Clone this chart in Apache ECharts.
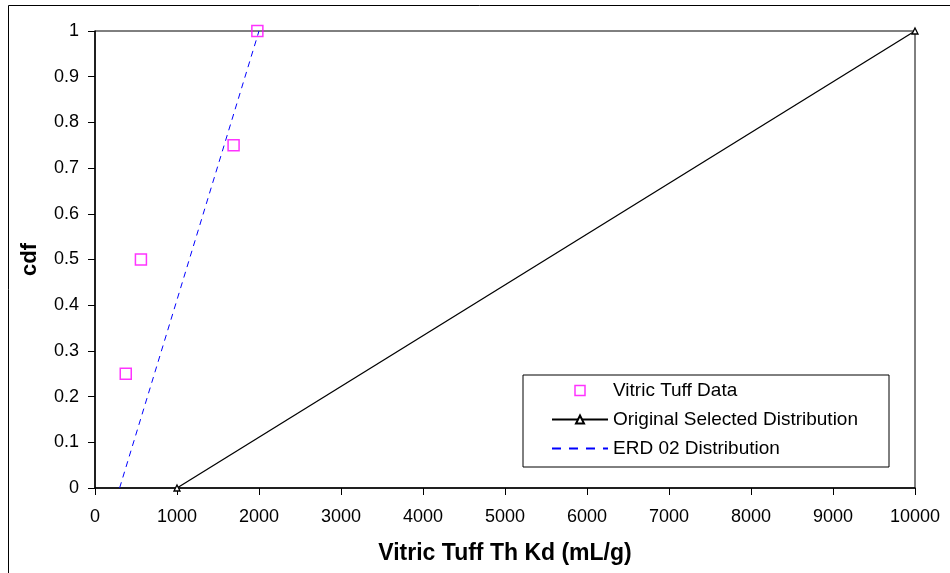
<!DOCTYPE html>
<html>
<head>
<meta charset="utf-8">
<script src="https://cdn.jsdelivr.net/npm/echarts@6/dist/echarts.min.js"></script>
<style>
  html, body { margin: 0; padding: 0; background: #fff; }
  #main { width: 950px; height: 573px; }
</style>
</head>
<body>
<div id="main"></div>
<script>
// data
var vitricX = [375, 560, 1690, 1980]
var vitricY = [0.25, 0.5, 0.75, 1]
var origX = [1000, 10000]
var origY = [0, 1]
var erdX = [300, 2000]
var erdY = [0, 1]

function pairs(xs, ys) {
  return xs.map(function (x, i) { return [x, ys[i]] })
}

var chart = echarts.init(document.getElementById('main'))
var font = 'Liberation Sans, Arial, sans-serif'

var option = {
  animation: false,
  textStyle: { fontFamily: font },
  graphic: [
    {
      type: 'rect',
      shape: { x: 8.5, y: 5.5, width: 1000, height: 700 },
      style: { fill: 'none', stroke: '#000', lineWidth: 1 },
      silent: true
    }
  ],
  grid: {
    left: 95, top: 31, width: 820, height: 457,
    show: true, borderColor: '#000', borderWidth: 1, backgroundColor: 'transparent'
  },
  legend: {
    orient: 'vertical',
    left: 523, top: 375,
    padding: [6, 31, 9, 28],
    itemWidth: 56, itemHeight: 10, itemGap: 10,
    borderColor: '#000', borderWidth: 1,
    backgroundColor: '#fff',
    textStyle: { fontFamily: font, fontSize: 19, lineHeight: 19, color: '#000' },
    data: [
      {
        name: 'Vitric Tuff Data',
        icon: 'path://M0,0H10V10H0Z',
        itemStyle: { color: 'transparent', borderColor: '#ff00ff', borderWidth: 1.5 }
      },
      { name: 'Original Selected Distribution' },
      {
        name: 'ERD 02 Distribution',
        lineStyle: { type: [9, 8] },
        itemStyle: { color: 'transparent', borderColor: 'transparent', borderWidth: 0 }
      }
    ]
  },
  xAxis: {
    type: 'value', min: 0, max: 10000, interval: 1000,
    name: 'Vitric Tuff Th Kd (mL/g)', nameLocation: 'middle', nameGap: 54,
    nameTextStyle: { fontFamily: font, fontSize: 23, fontWeight: 'bold', color: '#000' },
    axisLine: { show: true, lineStyle: { color: '#000', width: 1.5 } },
    axisTick: { show: true, inside: false, length: 7, lineStyle: { color: '#000' } },
    axisLabel: { fontFamily: font, fontSize: 18, color: '#000', margin: 20, formatter: function (v) { return String(v) } },
    splitLine: { show: false }
  },
  yAxis: {
    type: 'value', min: 0, max: 1, interval: 0.1,
    name: 'cdf', nameLocation: 'middle', nameGap: 54,
    nameTextStyle: { fontFamily: font, fontSize: 22, fontWeight: 'bold', color: '#000' },
    axisLine: { show: true, lineStyle: { color: '#000', width: 1.5 } },
    axisTick: { show: true, inside: false, length: 7, lineStyle: { color: '#000' } },
    axisLabel: { fontFamily: font, fontSize: 18, color: '#000', margin: 16 },
    splitLine: { show: false }
  },
  series: [
    {
      name: 'Original Selected Distribution',
      type: 'line',
      data: pairs(origX, origY),
      symbol: 'triangle', symbolSize: 6, showAllSymbol: true,
      lineStyle: { color: '#000', width: 1.3 },
      itemStyle: { color: '#fff', borderColor: '#000', borderWidth: 1.3 },
      z: 3
    },
    {
      name: 'ERD 02 Distribution',
      type: 'line',
      data: pairs(erdX, erdY),
      symbol: 'none',
      lineStyle: { color: '#0000ff', width: 1, type: [6, 5] },
      itemStyle: { color: '#0000ff' },
      z: 2
    },
    {
      name: 'Vitric Tuff Data',
      type: 'scatter',
      data: pairs(vitricX, vitricY),
      symbol: 'rect', symbolSize: 11,
      itemStyle: { color: 'transparent', borderColor: '#ff00ff', borderWidth: 1.5 },
      z: 4
    }
  ]
}

chart.setOption(option)
</script>
</body>
</html>
